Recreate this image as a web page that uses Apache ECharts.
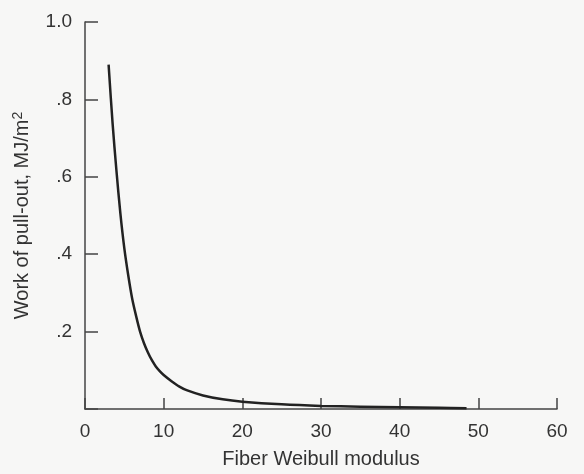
<!DOCTYPE html>
<html>
<head>
<meta charset="utf-8">
<script src="https://cdn.jsdelivr.net/npm/echarts@6/dist/echarts.min.js"></script>
<style>
html,body{margin:0;padding:0;background:#f7f7f6;}
#chart{width:584px;height:474px;}
</style>
</head>
<body>
<div id="chart"></div>
<script>
// Data
const weibullModulus = [3, 3.5, 4, 4.5, 5, 5.5, 6, 6.5, 7, 7.5, 8, 8.5, 9, 9.5, 10, 11, 12, 13, 15, 17.5, 20, 25, 30, 35, 40, 45, 48.5];
const workPullOut = [0.89, 0.74, 0.615, 0.505, 0.415, 0.345, 0.285, 0.24, 0.20, 0.17, 0.146, 0.126, 0.11, 0.098, 0.088, 0.072, 0.058, 0.048, 0.035, 0.025, 0.019, 0.012, 0.008, 0.006, 0.0045, 0.003, 0.002];
const xTicks = [0, 10, 20, 30, 40, 50, 60];
const yTickLabels = {0: '', 0.2: '.2', 0.4: '.4', 0.6: '.6', 0.8: '.8', 1: '1.0'};

const points = weibullModulus.map((m, i) => [m, workPullOut[i]]);
const axisColor = '#444';
const textColor = '#333';
const font = 'Liberation Sans, Arial, sans-serif';

const chart = echarts.init(document.getElementById('chart'));
chart.setOption({
  backgroundColor: '#f7f7f6',
  animation: false,
  grid: {left: 85, right: 27, top: 22, bottom: 62, containLabel: false},
  xAxis: {
    type: 'value', min: 0, max: 60, interval: 10,
    name: 'Fiber Weibull modulus', nameLocation: 'middle', nameGap: 40,
    nameTextStyle: {color: textColor, fontSize: 20, fontFamily: font},
    axisLine: {show: true, lineStyle: {color: axisColor, width: 1.5}},
    axisTick: {show: true, inside: true, length: 11, lineStyle: {color: axisColor, width: 1.5}},
    axisLabel: {color: textColor, fontSize: 19, fontFamily: font, margin: 13,
      formatter: v => xTicks.includes(v) ? String(v) : ''},
    splitLine: {show: false}
  },
  yAxis: {
    type: 'value', min: 0, max: 1, interval: 0.2,
    name: 'Work of pull-out, MJ/m{sup|2}', nameLocation: 'middle', nameGap: 51, nameRotate: 90,
    nameTextStyle: {color: textColor, fontSize: 20, fontFamily: font,
      rich: {sup: {fontSize: 14, verticalAlign: 'top', color: textColor, fontFamily: font, padding: [0,0,9,0]}}},
    axisLine: {show: true, lineStyle: {color: axisColor, width: 1.5}},
    axisTick: {show: true, inside: true, length: 13, lineStyle: {color: axisColor, width: 1.5}},
    axisLabel: {color: textColor, fontSize: 19, fontFamily: font, margin: 13,
      formatter: v => {const k = Math.round(v * 10) / 10; return yTickLabels[k] !== undefined ? yTickLabels[k] : '';}},
    splitLine: {show: false}
  },
  series: [{
    type: 'line', data: points, smooth: 0.3, symbol: 'none',
    lineStyle: {color: '#222', width: 2.5}
  }]
});
</script>
</body>
</html>
